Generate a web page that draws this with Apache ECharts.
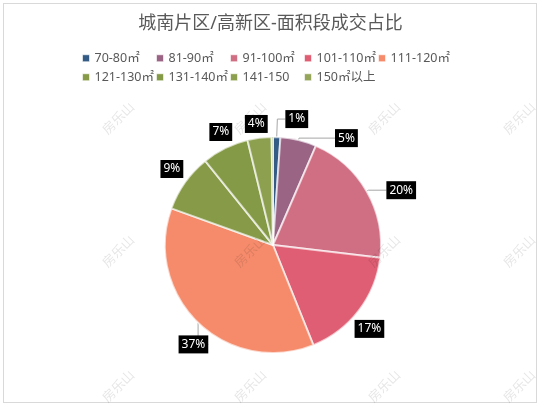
<!DOCTYPE html>
<html>
<head>
<meta charset="utf-8">
<script src="https://cdn.jsdelivr.net/npm/echarts@6/dist/echarts.min.js"></script>
<style>
html,body{margin:0;padding:0;background:#fff;}
#frame{position:absolute;left:3px;top:3px;width:532px;height:398px;border:1px solid #d9d9d9;background:#fff;}
#chart{position:absolute;left:0;top:0;width:541px;height:408px;}
</style>
</head>
<body>
<div id="frame"></div>
<div id="chart"></div>
<script>
const titleText = '城南片区/高新区-面积段成交占比';
const categories = ['70-80㎡','81-90㎡','91-100㎡','101-110㎡','111-120㎡','121-130㎡','131-140㎡','141-150','150㎡以上'];
// shares (%); labels show them rounded
const shares = [1.1, 5.4, 20.4, 17.0, 36.6, 8.7, 7.0, 3.6, 0.2];
const colors = ['#335b85','#9a6485','#d06f84','#df5e73','#f58b6b','#879a48','#859a46','#8ca04f','#95a55a'];
const watermark = '房乐山';

// per-slice leader settings: [length, length2, showLine]
const leader = [
  [18, 8, true],
  [2, 36, true],
  [2, 18, true],
  [30, -28, false],
  [30, -31, true],
  [23, -17, false],
  [18, -15, false],
  [14, -10, false],
  [8, 8, false]
];

const FONT = '"Noto Sans","Noto Sans CJK SC",sans-serif';
const chart = echarts.init(document.getElementById('chart'), null, {renderer:'canvas'});

const wmCols = [118, 250, 384, 519];
const wmRows = [118, 251, 386];
const graphics = [];
wmRows.forEach(y => wmCols.forEach(x => {
  graphics.push({
    type:'text', x:x, y:y, rotation: Math.PI/4, z: 100, silent:true,
    style:{text: watermark, fill:'rgba(0,0,0,0.10)', font:'13px "Noto Sans CJK SC"', align:'center', verticalAlign:'middle'}
  });
}));

// legend: 5 slots per row, fixed slot width
const legends = categories.map((name, i) => ({
  left: 82 + (i % 5) * 74,
  top: i < 5 ? 52 : 71,
  padding: 0,
  data: [{name: name, icon: 'rect'}],
  itemWidth: 7, itemHeight: 7, itemGap: 0,
  itemStyle:{borderColor:'rgba(255,255,255,0.6)', borderWidth:1},
  textStyle:{color:'#595959', fontSize:12.5, fontFamily:FONT},
  selectedMode:false
}));

chart.setOption({
  animation:false,
  backgroundColor:'transparent',
  color: colors,
  title:{
    text: titleText, left:'center', top: 10,
    textStyle:{color:'#595959', fontSize:18, fontWeight:'normal', fontFamily:FONT}
  },
  legend: legends,
  graphic: graphics,
  series:[{
    type:'pie',
    center:[273,245],
    radius:[0,108],
    startAngle:90,
    clockwise:true,
    minShowLabelAngle:1,
    avoidLabelOverlap:false,
    itemStyle:{borderColor:'rgba(255,255,255,0.65)', borderWidth:2},
    label:{
      show:true, position:'outside', distanceToLabelLine:0,
      formatter: p => Math.round(p.value) + '%',
      color:'#fff', backgroundColor:'#000', fontSize:12, fontFamily:FONT,
      padding:[2,3,1,3], lineHeight:15
    },
    labelLine:{show:true, lineStyle:{color:'#a6a6a6', width:1}},
    emphasis:{disabled:true},
    data: categories.map((c,i) => ({
      name:c, value:shares[i],
      labelLine:{show:leader[i][2], length:leader[i][0], length2:leader[i][1]}
    }))
  }]
});
</script>
</body>
</html>
